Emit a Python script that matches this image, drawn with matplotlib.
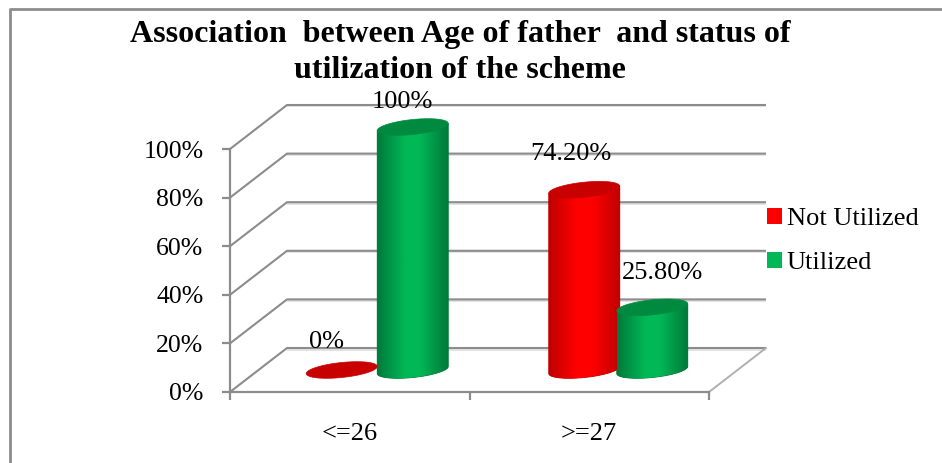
import numpy as np
import matplotlib
matplotlib.use("Agg")
import matplotlib.pyplot as plt
from matplotlib.colors import LinearSegmentedColormap
from matplotlib.lines import Line2D
from matplotlib.patches import Patch, Polygon
from matplotlib.transforms import IdentityTransform

categories = ["<=26", ">=27"]
series_names = ["Not Utilized", "Utilized"]
not_utilized = [0, 74.2]
utilized = [100, 25.8]
not_utilized_labels = ["0%", "74.20%"]
utilized_labels = ["100%", "25.80%"]
y_ticks = [0, 20, 40, 60, 80, 100]

title = "Association  between Age of father  and status of\nutilization of the scheme"

GRID = "#8c8c8c"
RED = "#ff0000"
RED_EDGE = "#c00000"
RED_TOP = "#c80000"
GREEN = "#00b856"
GREEN_EDGE = "#00793a"
GREEN_TOP = "#008a40"

# depth of the fake 3d box and cylinder shape, in pixels
DEPTH_X = 57
DEPTH_Y = 44
BAR_HALF = 35.5
ELL_B = 7.5
ELL_SLOPE = 0.1

plt.rcParams["font.family"] = ["Liberation Serif", "DejaVu Serif"]

fig = plt.figure(figsize=(9.42, 4.63), dpi=100)
W, H = 942, 463
ax = fig.add_axes([230 / W, (H - 392) / H, 479 / W, 243 / H])
ax.set_xlim(0, 2)
ax.set_ylim(0, 100)
ax.patch.set_visible(False)

dx = DEPTH_X * 2 / 479
dy = DEPTH_Y * 100 / 243
shadow = 1.5 * 100 / 243

# ==========================
# BOX AND GRID
# ==========================

for v in y_ticks:
    ax.plot([dx, 2 + dx], [v + dy - shadow, v + dy - shadow], color="#dedede", lw=1.2,
            clip_on=False, zorder=1, solid_capstyle="butt")
    ax.plot([0, dx, 2 + dx], [v, v + dy, v + dy], color=GRID, lw=1.5,
            clip_on=False, zorder=1, solid_capstyle="butt")
ax.plot([2, 2 + dx], [0, dy], color="#b0b0b0", lw=1.4, clip_on=False, zorder=1)

for side in ["top", "right"]:
    ax.spines[side].set_visible(False)
for side in ["left", "bottom"]:
    ax.spines[side].set_color(GRID)
    ax.spines[side].set_linewidth(1.6)

ax.set_yticks(y_ticks)
ax.set_yticklabels([str(v) + "%" for v in y_ticks])
ax.set_xticks([0, 1, 2])
ax.set_xticks([0.5, 1.5], minor=True)
ax.set_xticklabels([])
ax.set_xticklabels(categories, minor=True)
ax.tick_params(axis="y", length=6, width=1.6, color=GRID, pad=13, labelsize=18.5)
ax.tick_params(axis="x", which="major", length=6, width=1.6, color=GRID)
ax.tick_params(axis="x", which="minor", length=0, pad=22.5, labelsize=19)


# ==========================
# CYLINDERS
# ==========================

def shade(color, edge):
    mid = tuple((np.array(matplotlib.colors.to_rgb(color)) + np.array(matplotlib.colors.to_rgb(edge))) / 2)
    return LinearSegmentedColormap.from_list("c", [edge, mid, color, color, mid, edge])


def ellipse_points(cx, cy):
    t = np.linspace(0, 2 * np.pi, 80)
    x = BAR_HALF * np.cos(t)
    return np.column_stack([cx + x, cy + ELL_SLOPE * x + ELL_B * np.sin(t)])


def cylinder(cat, side, value, color, edge, top, nudge=0):
    base = ax.transData.transform((cat + 0.5, 0))
    tip = ax.transData.transform((cat + 0.5, value))
    cx = base[0] + DEPTH_X / 2 + side * BAR_HALF - 1 + nudge
    y0 = base[1] + DEPTH_Y / 2
    y1 = tip[1] + DEPTH_Y / 2

    if value > 0:
        # outline: lower half of the base ellipse, then up and over the top
        xs = BAR_HALF * np.cos(np.linspace(np.pi, 2 * np.pi, 60))
        low = np.column_stack([cx + xs, y0 + ELL_SLOPE * xs - ELL_B * np.sqrt(1 - (xs / BAR_HALF) ** 2)])
        up = np.array([[cx + BAR_HALF, y1 + ELL_SLOPE * BAR_HALF], [cx - BAR_HALF, y1 - ELL_SLOPE * BAR_HALF]])
        outline = Polygon(np.vstack([low, up]), closed=True, facecolor=edge, edgecolor=edge, lw=0.6,
                          transform=IdentityTransform(), clip_on=False, zorder=3)
        ax.add_patch(outline)

        inv = ax.transData.inverted()
        (d0x, d0y) = inv.transform((cx - BAR_HALF, y0 - 2 * ELL_B))
        (d1x, d1y) = inv.transform((cx + BAR_HALF, y1 + 2 * ELL_B))
        grad = np.linspace(0, 1, 256).reshape(1, -1)
        im = ax.imshow(grad, extent=(d0x, d1x, d0y, d1y), aspect="auto", cmap=shade(color, edge),
                       zorder=3.5, interpolation="bilinear")
        im.set_clip_box(fig.bbox)
        im.set_clip_path(outline)

    ax.add_patch(Polygon(ellipse_points(cx, y1), closed=True, facecolor=top, edgecolor=top,
                         lw=0.5, transform=IdentityTransform(), clip_on=False, zorder=4))


# the red bar of the second group sits slightly closer to its green bar
red_nudge = [0, 3]

for i in range(len(categories)):
    cylinder(i, -1, not_utilized[i], RED, RED_EDGE, RED_TOP, red_nudge[i])
    cylinder(i, 1, utilized[i], GREEN, GREEN_EDGE, GREEN_TOP)

ax.set_xlim(0, 2)
ax.set_ylim(0, 100)

# ==========================
# DATA LABELS
# ==========================

# label offsets from the top of each cylinder, in pixels
red_offsets = [(-16, 28), (-11, 36)]
green_offsets = [(-11, 25), (9, 34)]

for i in range(len(categories)):
    for side, value, text, off in [(-1, not_utilized[i], not_utilized_labels[i], red_offsets[i]),
                                   (1, utilized[i], utilized_labels[i], green_offsets[i])]:
        ax.annotate(text, xy=(i + 0.5, value),
                    xytext=((DEPTH_X / 2 + side * BAR_HALF + off[0]) * 0.72,
                            (DEPTH_Y / 2 + off[1]) * 0.72),
                    textcoords="offset points", ha="center", va="center",
                    fontsize=19, color="black", zorder=5, annotation_clip=False)

# ==========================
# TITLE, LEGEND, BORDER
# ==========================

fig.text(460 / W, 1 - 52.5 / H, title, ha="center", va="center", fontsize=23,
         fontweight="bold", linespacing=1.3)

handles = [Patch(facecolor=RED, label=series_names[0]), Patch(facecolor=GREEN, label=series_names[1])]
fig.legend(handles=handles, loc="center left", bbox_to_anchor=(767 / W, 1 - 241 / H),
           frameon=False, fontsize=19, handlelength=0.55, handleheight=0.55,
           handletextpad=0.2, labelspacing=0.82, borderpad=0, borderaxespad=0)

fig.add_artist(Line2D([10 / W, 10 / W, 1], [0, 1 - 8.5 / H, 1 - 8.5 / H], color=GRID, lw=2))

fig.savefig("out.png", dpi=100)
